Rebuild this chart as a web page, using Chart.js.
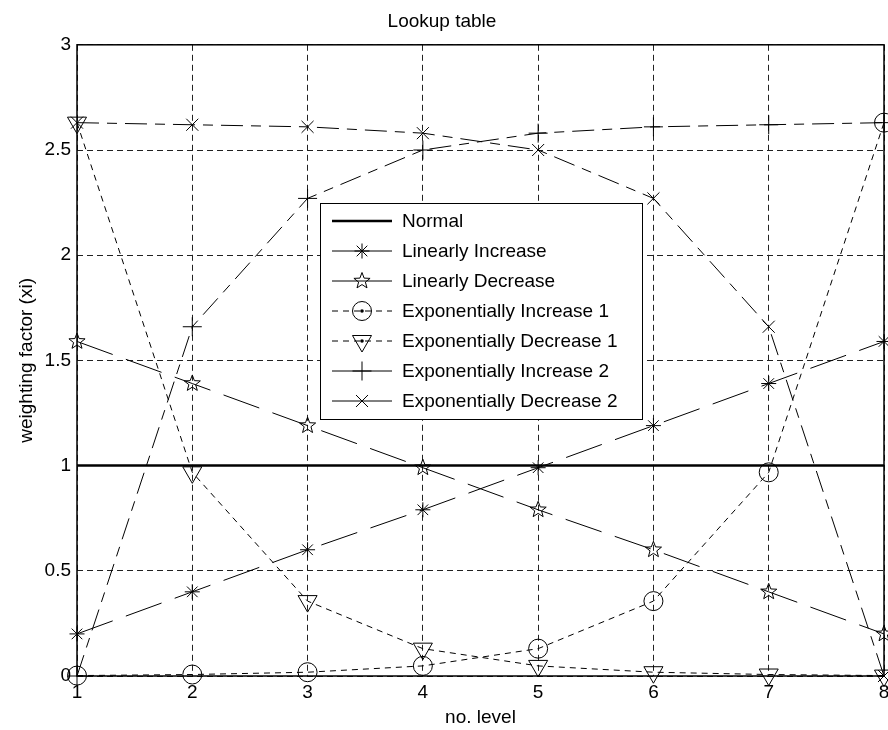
<!DOCTYPE html>
<html>
<head>
<meta charset="utf-8">
<title>Lookup table</title>
<script src="https://cdn.jsdelivr.net/npm/chart.js@4.4.1/dist/chart.umd.min.js"></script>
<style>
  html, body { margin: 0; padding: 0; background: #fff; }
</style>
</head>
<body>
<canvas id="myChart" width="888" height="730"></canvas>
<script>
// Données
const levels = [1, 2, 3, 4, 5, 6, 7, 8];
const yTicks = [0, 0.5, 1, 1.5, 2, 2.5, 3];
const normal = [1, 1, 1, 1, 1, 1, 1, 1];
const linInc = [0.2, 0.4, 0.6, 0.79, 0.99, 1.19, 1.39, 1.59];
const linDec = [1.59, 1.39, 1.19, 0.99, 0.79, 0.6, 0.4, 0.2];
const expInc1 = [0.002, 0.007, 0.018, 0.048, 0.13, 0.356, 0.968, 2.63];
const expDec1 = [2.63, 0.968, 0.356, 0.13, 0.048, 0.018, 0.007, 0.002];
const expInc2 = [0, 1.66, 2.27, 2.5, 2.58, 2.61, 2.62, 2.63];
const expDec2 = [2.63, 2.62, 2.61, 2.58, 2.5, 2.27, 1.66, 0];

const FONT = "'Liberation Sans', Arial, sans-serif";
const font = { family: FONT, size: 19, weight: "normal" };

// Pentagramme (marqueur "p" de MATLAB), tracé en vectoriel
function pentagram(c, x, y, r) {
  c.beginPath();
  for (let i = 0; i < 10; i++) {
    const a = -Math.PI / 2 + (i * Math.PI) / 5;
    const rr = i % 2 ? r * 0.42 : r;
    c.lineTo(x + rr * Math.cos(a), y + rr * Math.sin(a));
  }
  c.closePath();
  c.stroke();
}

const pts = (arr) => levels.map((x, i) => ({ x: x, y: arr[i] }));

function serie(label, arr, extra) {
  return Object.assign(
    {
      label: label,
      data: pts(arr),
      borderColor: "#000",
      borderWidth: 1,
      backgroundColor: "rgba(0,0,0,0)",
      pointBorderColor: "#000",
      pointBackgroundColor: "rgba(0,0,0,0)",
      pointBorderWidth: 1,
      pointRadius: 0,
      tension: 0,
      clip: false,
    },
    extra
  );
}

// Boîte des axes (style MATLAB)
const axesBox = {
  id: "axesBox",
  beforeDatasetsDraw(chart) {
    const { ctx, chartArea: a } = chart;
    ctx.save();
    ctx.setLineDash([]);
    ctx.strokeStyle = "#000";
    ctx.lineWidth = 1.5;
    ctx.strokeRect(a.left, a.top, a.right - a.left, a.bottom - a.top);
    ctx.restore();
  },
};

// Marqueurs pentagramme aux positions calculées par Chart.js
const starMarks = {
  id: "starMarks",
  afterDatasetsDraw(chart) {
    const { ctx } = chart;
    ctx.save();
    ctx.setLineDash([]);
    ctx.strokeStyle = "#000";
    ctx.lineWidth = 1;
    chart.data.datasets.forEach((ds, i) => {
      if (!ds.pentagram) return;
      chart.getDatasetMeta(i).data.forEach((pt) => pentagram(ctx, pt.x, pt.y, ds.pentagram));
    });
    ctx.restore();
  },
};

// Légende dessinée à l'intérieur du graphique
const insideLegend = {
  id: "insideLegend",
  afterDraw(chart, args, opts) {
    const { ctx } = chart;
    const b = opts.box;
    ctx.save();
    ctx.fillStyle = "#fff";
    ctx.fillRect(b.left, b.top, b.right - b.left, b.bottom - b.top);
    ctx.setLineDash([]);
    ctx.strokeStyle = "#000";
    ctx.lineWidth = 1;
    ctx.strokeRect(b.left + 0.5, b.top + 0.5, b.right - b.left, b.bottom - b.top);
    chart.data.datasets.forEach((ds, i) => {
      const y = b.top + 18 + i * opts.rowHeight;
      const x0 = b.left + 12;
      const x1 = b.left + 72;
      const xm = b.left + 42;
      ctx.setLineDash(ds.legendDash || []);
      ctx.strokeStyle = "#000";
      ctx.lineWidth = ds.borderWidth;
      ctx.beginPath();
      ctx.moveTo(x0, y);
      ctx.lineTo(x1, y);
      ctx.stroke();
      ctx.setLineDash([]);
      ctx.lineWidth = 1;
      if (ds.pentagram) {
        pentagram(ctx, xm, y, ds.pentagram);
      } else if (ds.pointStyle && ds.pointRadius > 0 && Chart.helpers && Chart.helpers.drawPoint) {
        ctx.fillStyle = "rgba(0,0,0,0)";
        Chart.helpers.drawPoint(
          ctx,
          { pointStyle: ds.pointStyle, radius: ds.pointRadius, rotation: ds.pointRotation || 0, borderWidth: 1 },
          xm,
          y
        );
      }
      if (ds.legendDot) {
        ctx.fillStyle = "#000";
        ctx.beginPath();
        ctx.arc(xm, y, 1.8, 0, Math.PI * 2);
        ctx.fill();
      }
      ctx.fillStyle = "#000";
      ctx.font = "19px " + FONT;
      ctx.textAlign = "left";
      ctx.textBaseline = "middle";
      ctx.fillText(ds.label, b.left + 82, y + 1);
    });
    ctx.restore();
  },
};

const ctx = document.getElementById("myChart").getContext("2d");
const myChart = new Chart(ctx, {
  type: "line",
  data: {
    datasets: [
      serie("Normal", normal, { borderWidth: 2.5 }),
      serie("Linearly Increase", linInc, {
        borderDash: [38, 14],
        pointStyle: "star",
        pointRadius: 7.5,
      }),
      serie("Linearly Decrease", linDec, {
        borderDash: [38, 14],
        pentagram: 8.5,
      }),
      serie("Exponentially Increase 1", expInc1, {
        borderDash: [6, 5],
        legendDash: [6, 5],
        pointStyle: "circle",
        pointRadius: 9.5,
        legendDot: true,
      }),
      serie("Exponentially Decrease 1", expDec1, {
        borderDash: [6, 5],
        legendDash: [6, 5],
        pointStyle: "triangle",
        pointRotation: 180,
        pointRadius: 11,
        legendDot: true,
      }),
      serie("Exponentially Increase 2", expInc2, {
        borderDash: [22, 8, 10, 8],
        pointStyle: "cross",
        pointRadius: 9.5,
      }),
      serie("Exponentially Decrease 2", expDec2, {
        borderDash: [22, 8, 10, 8],
        pointStyle: "crossRot",
        pointRadius: 8.5,
      }),
    ],
  },
  options: {
    responsive: false,
    animation: false,
    events: [],
    layout: { autoPadding: false, padding: { left: 0, right: 4, top: 0, bottom: 0 } },
    plugins: {
      legend: { display: false },
      tooltip: { enabled: false },
      title: {
        display: true,
        text: "Lookup table",
        color: "#000",
        font: font,
        padding: { top: 10, bottom: 12 },
      },
      insideLegend: {
        box: { left: 320, top: 203, right: 642, bottom: 419 },
        rowHeight: 30,
      },
    },
    scales: {
      x: {
        type: "linear",
        min: 1,
        max: 8,
        afterBuildTicks: (s) => {
          s.ticks = levels.map((v) => ({ value: v }));
        },
        ticks: {
          color: "#000",
          font: font,
          padding: 5,
          autoSkip: false,
          maxRotation: 0,
          callback: (v) => String(v),
        },
        grid: { color: "#222", lineWidth: 1, drawTicks: false },
        border: { display: false, dash: [6, 4] },
        title: {
          display: true,
          text: "no. level",
          color: "#000",
          font: font,
          padding: { top: 0, bottom: 1 },
        },
        afterFit: (s) => {
          s.height = 54;
          s.paddingLeft = 0;
          s.paddingRight = 0;
        },
      },
      y: {
        type: "linear",
        min: 0,
        max: 3,
        afterBuildTicks: (s) => {
          s.ticks = yTicks.map((v) => ({ value: v }));
        },
        ticks: { color: "#000", font: font, padding: 6, callback: (v) => String(v) },
        grid: { color: "#222", lineWidth: 1, drawTicks: false },
        border: { display: false, dash: [6, 4] },
        title: {
          display: true,
          text: "weighting factor (xi)",
          color: "#000",
          font: font,
          padding: { top: 15, bottom: 0 },
        },
        afterFit: (s) => {
          s.width = 77;
          s.paddingTop = 0;
          s.paddingBottom = 0;
        },
      },
    },
  },
  plugins: [axesBox, starMarks, insideLegend],
});
</script>
</body>
</html>
